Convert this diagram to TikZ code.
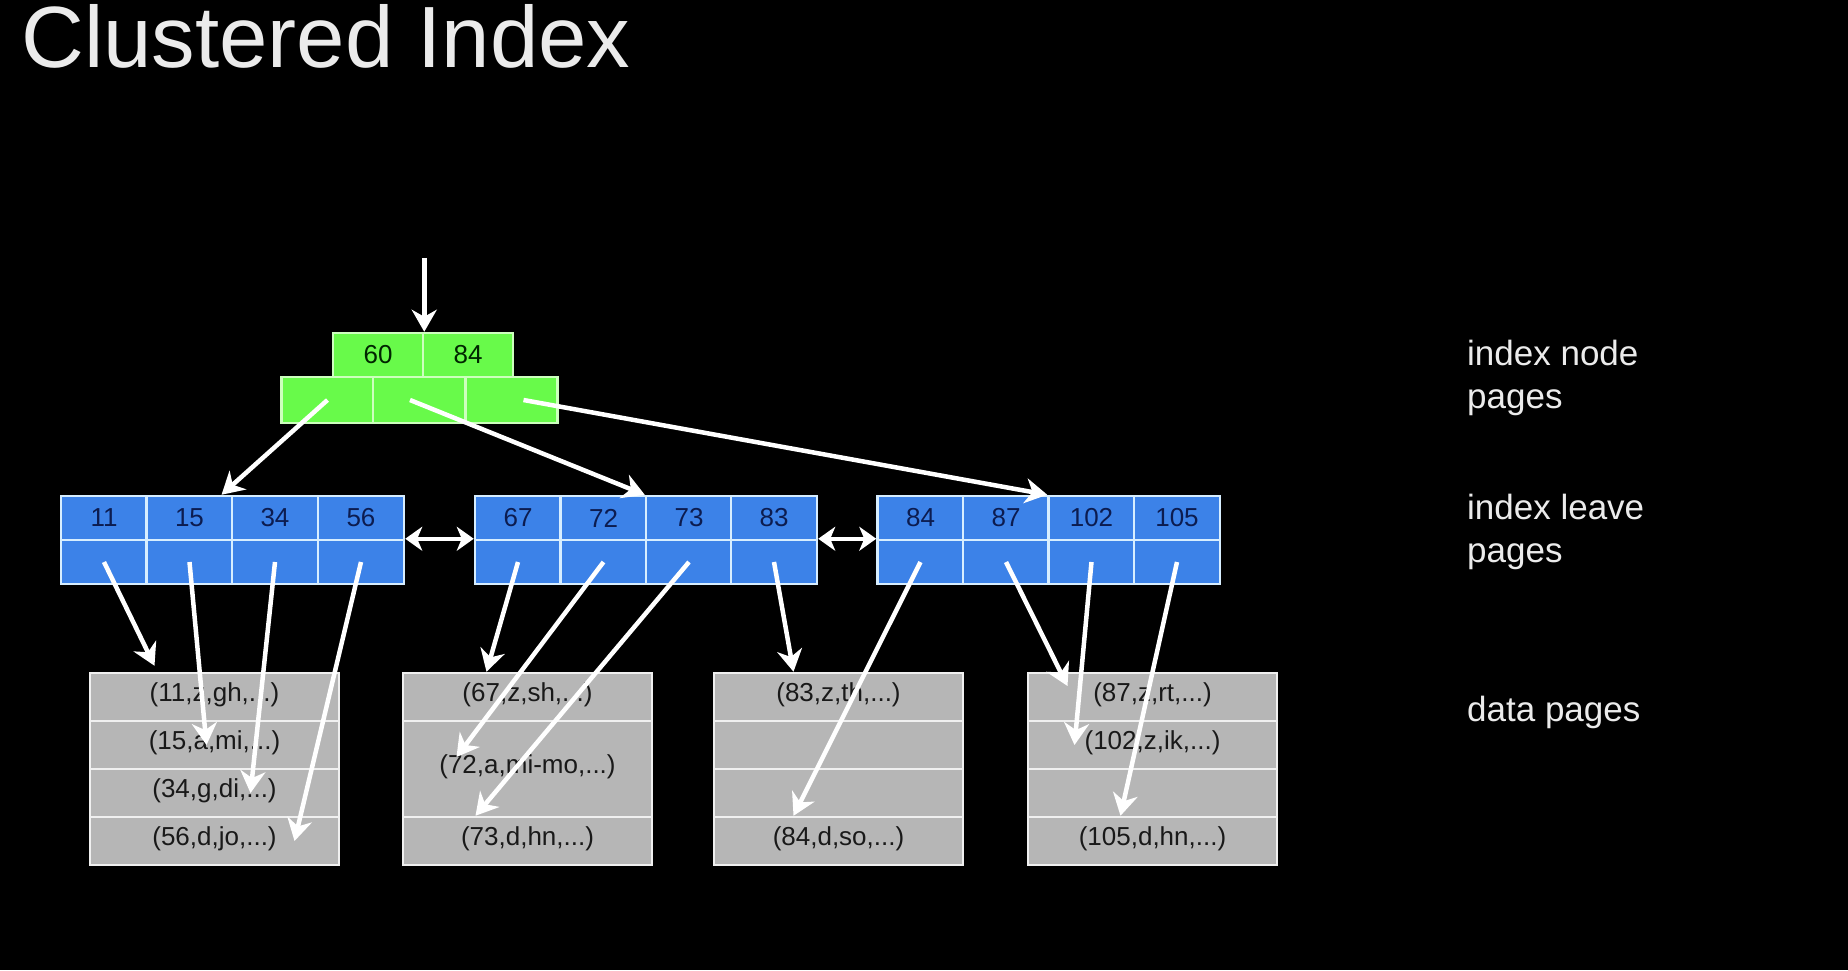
\documentclass[tikz,border=0pt]{standalone}
\usepackage{fontspec}
\setmainfont{Liberation Sans}
\usetikzlibrary{arrows.meta}

\definecolor{nodegreen}{RGB}{104,250,74}
\definecolor{leafblue}{RGB}{60,130,232}
\definecolor{pagegray}{RGB}{182,182,182}
\definecolor{greenline}{RGB}{205,255,190}
\definecolor{blueline}{RGB}{215,238,255}
\definecolor{greyline}{RGB}{240,240,240}
\definecolor{navy}{RGB}{12,28,80}

\tikzset{
  cellfont/.style={font=\fontsize{26}{26}\selectfont},
  rootcell/.style={cellfont,draw=greenline,fill=nodegreen,line width=2.5pt,
    minimum width=90pt,minimum height=44pt,inner sep=0pt,text=black!85!green},
  leafcell/.style={cellfont,draw=blueline,fill=leafblue,line width=2.5pt,
    minimum width=86pt,minimum height=44pt,inner sep=0pt,text=navy},
  datarow/.style={cellfont,draw=greyline,fill=pagegray,line width=2.5pt,
    minimum width=249pt,minimum height=48pt,inner sep=0pt,text=black!90,
    text height=19pt,text depth=11pt},
  ptr/.style={draw=white,line width=4.5pt,-{Stealth[length=22pt,width=25pt,inset=7pt]}},
  sibling/.style={draw=white,line width=4.5pt,
    {Stealth[length=17pt,width=24pt,inset=5pt]}-{Stealth[length=17pt,width=24pt,inset=5pt]}},
  sidelabel/.style={text=white!92!black,font=\fontsize{35}{43}\selectfont,
    align=left,anchor=north west,inner sep=0pt}
}

\begin{document}
\begin{tikzpicture}[x=1pt,y=-1pt]
  \fill[black] (0,0) rectangle (1848,970);
  \node[anchor=base west,inner sep=0pt,text=white!92!black,
        font=\fontsize{87}{87}\selectfont] (title) at (21,67) {Clustered Index};

  % index node page
  \foreach \k/\x in {60/378,84/468}
    \node[rootcell] (root-\k) at (\x,355) {\k};
  \foreach \i/\x in {1/327.5,2/419,3/511.5}
    \node[rootcell,minimum width=92pt,minimum height=46pt] (rootptr-\i) at (\x,400) {};
  \coordinate (entry) at ([yshift=74pt]root-60.north east);

  % index leave pages
  \foreach \k/\x in {11/104,15/189.5,34/275,56/361,
                     67/518,72/603.5,73/689,83/774,
                     84/920.5,87/1006,102/1091.5,105/1177}
  {
    \node[leafcell] (key-\k) at (\x,518) {\k};
    \node[leafcell] (ptr-\k) at (\x,562) {};
  }

  % data pages
  \foreach \k/\x/\y/\txt in {11/214.5/697/{(11,z,gh,...)},
                             15/214.5/745/{(15,a,mi,...)},
                             34/214.5/793/{(34,g,di,...)},
                             56/214.5/841/{(56,d,jo,...)},
                             67/527.5/697/{(67,z,sh,...)},
                             73/527.5/841/{(73,d,hn,...)},
                             83/838.5/697/{(83,z,th,...)},
                             e1/838.5/745/{},
                             e2/838.5/793/{},
                             84/838.5/841/{(84,d,so,...)},
                             87/1152.5/697/{(87,z,rt,...)},
                             102/1152.5/745/{(102,z,ik,...)},
                             e3/1152.5/793/{},
                             105/1152.5/841/{(105,d,hn,...)}}
    \node[datarow] (row-\k) at (\x,\y) {\txt};
  \node[datarow,minimum height=96pt] (row-72) at (527.5,769) {(72,a,mi-mo,...)};

  % pointers
  \draw[ptr] (entry) -- (root-60.north east);
  \draw[ptr] (rootptr-1.center) -- ([xshift=32pt]key-15.north);
  \draw[ptr] ([xshift=-9pt]rootptr-2.center) -- (key-73.north west);
  \draw[ptr] ([xshift=12pt]rootptr-3.center) -- (key-102.north west);
  \foreach \k/\a/\dx/\dy in {11/north/-60/6,15/center/-8/0,34/center/36/0,
                             56/center/80/0,67/north/-41/0,72/center/-71/12,
                             73/north/-52/0,83/north/-45/0,84/north/-45/0,
                             87/center/-85/11,102/center/-78/0,105/north/-32/0}
    \draw[ptr] (ptr-\k.center) -- ([xshift=\dx pt,yshift=\dy pt]row-\k.\a);
  \draw[sibling] (ptr-56.north east) -- (ptr-67.north west);
  \draw[sibling] (ptr-83.north east) -- (ptr-84.north west);

  % labels
  \node[sidelabel] (lbl-node) at (1467,340) {index node\\pages};
  \node[sidelabel] (lbl-leave) at (1467,494) {index leave\\pages};
  \node[sidelabel] (lbl-data) at (1467,696) {data pages};
\end{tikzpicture}
\end{document}
